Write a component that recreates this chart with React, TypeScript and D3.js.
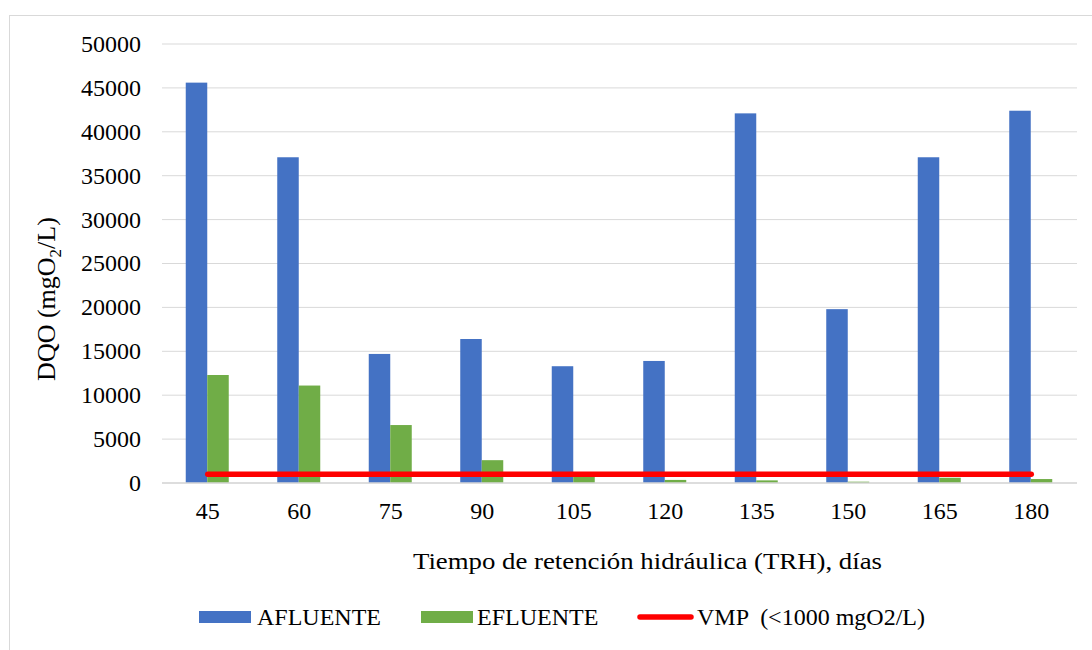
import React from "react";
import * as d3 from "d3";

const categories = ["45", "60", "75", "90", "105", "120", "135", "150", "165", "180"];
const afluente = [45600, 37100, 14700, 16400, 13300, 13900, 42100, 19800, 37100, 42400];
const efluente = [12300, 11100, 6600, 2600, 800, 350, 300, 150, 600, 450];
const vmp = [1000, 1000, 1000, 1000, 1000, 1000, 1000, 1000, 1000, 1000];
const yTicks = [0, 5000, 10000, 15000, 20000, 25000, 30000, 35000, 40000, 45000, 50000];

const W = 1092;
const H = 650;
const plot = { left: 162, right: 1077, top: 44, bottom: 483 };
const FONT = "'Liberation Serif', 'Times New Roman', serif";

export default function App() {
  const x = d3.scaleBand<string>().domain(categories).range([plot.left, plot.right]);
  const y = d3.scaleLinear().domain([0, 50000]).range([plot.bottom, plot.top]);
  const bw = 21.5;
  const line = d3
    .line<number>()
    .x((_, i) => (x(categories[i]) as number) + x.bandwidth() / 2)
    .y((d) => y(d));

  return (
    <svg
      width={W}
      height={H}
      style={{ position: "absolute", left: 0, top: 0, background: "#fff" }}
      fontFamily={FONT}
    >
      <rect x={9.5} y={15.5} width={1100} height={700} fill="#fff" stroke="#d9d9d9" strokeWidth={1} />
      {yTicks.map((t) => (
        <g key={t}>
          <line x1={plot.left} x2={plot.right} y1={y(t)} y2={y(t)} stroke="#d9d9d9" strokeWidth={1} />
          <text x={141} y={y(t)} dy="0.33em" textAnchor="end" fontSize={24} fill="#000">
            {t}
          </text>
        </g>
      ))}
      {categories.map((c, i) => {
        const cx = (x(c) as number) + x.bandwidth() / 2;
        return (
          <g key={c}>
            <rect x={cx - bw - 0.5} y={y(afluente[i])} width={bw} height={y(0) - y(afluente[i])} fill="#4472c4" />
            <rect x={cx - 0.5} y={y(efluente[i])} width={bw} height={y(0) - y(efluente[i])} fill="#70ad47" />
            <text x={cx} y={519} textAnchor="middle" fontSize={24} fill="#000">
              {c}
            </text>
          </g>
        );
      })}
      <line x1={plot.left} x2={plot.right} y1={y(0)} y2={y(0)} stroke="#d9d9d9" strokeWidth={1.5} />
      <path d={line(vmp) || ""} fill="none" stroke="#ff0000" strokeWidth={5.5} strokeLinecap="round" />
      <text
        transform={`translate(55, 299) rotate(-90)`}
        textAnchor="middle"
        fontSize={26}
        fill="#000"
      >
        DQO (mgO
        <tspan fontSize={17} dy="6">2</tspan>
        <tspan dy="-6">/L)</tspan>
      </text>
      <text
        x={647.5}
        y={569}
        textAnchor="middle"
        fontSize={24}
        textLength={469}
        lengthAdjust="spacingAndGlyphs"
        fill="#000"
      >
        Tiempo de retención hidráulica (TRH), días
      </text>
      <g fontSize={24} fill="#000">
        <rect x={199} y={611} width={52} height={12} fill="#4472c4" />
        <text x={257} y={625}>AFLUENTE</text>
        <rect x={421} y={611} width={52} height={12} fill="#70ad47" />
        <text x={477} y={625}>EFLUENTE</text>
        <line x1={640} x2={691} y1={617} y2={617} stroke="#ff0000" strokeWidth={5.5} strokeLinecap="round" />
        <text x={697} y={625} style={{ whiteSpace: "pre" }}>
          {"VMP  (<1000 mgO2/L)"}
        </text>
      </g>
    </svg>
  );
}
